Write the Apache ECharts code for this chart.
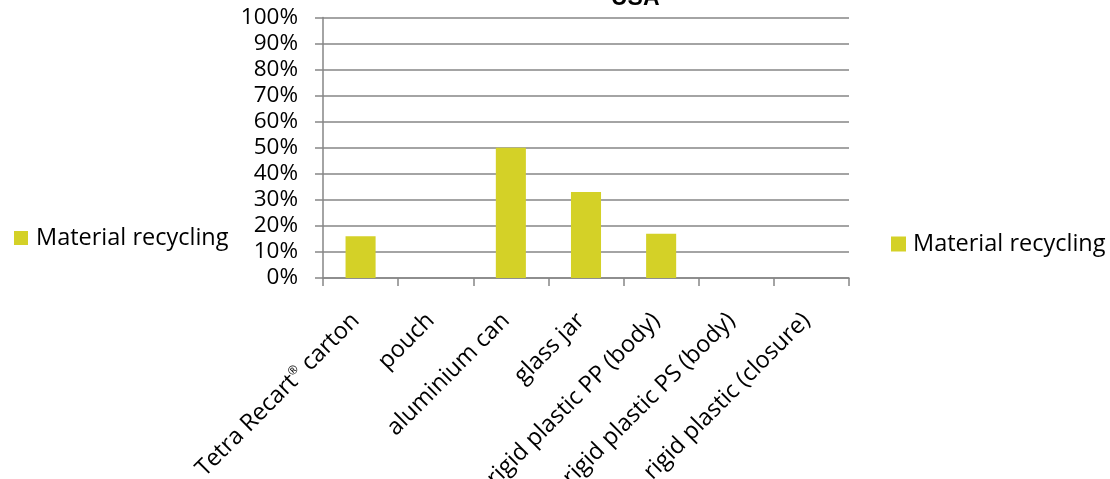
<!DOCTYPE html>
<html>
<head>
<meta charset="utf-8">
<script src="https://cdn.jsdelivr.net/npm/echarts@6/dist/echarts.min.js"></script>
<style>
html,body{margin:0;padding:0;background:#fff;}
#chart{width:1110px;height:479px;}
</style>
</head>
<body>
<div id="chart"></div>
<script>
const title = 'USA';
const seriesName = 'Material recycling';
const categories = ['Tetra Recart® carton', 'pouch', 'aluminium can', 'glass jar', 'rigid plastic PP (body)', 'rigid plastic PS (body)', 'rigid plastic (closure)'];
const values = [16, 0, 50, 33, 17, 0, 0];
const yTicks = { min: 0, max: 100, interval: 10 };

const FONT = 'Open Sans';
const chart = echarts.init(document.getElementById('chart'), null, { renderer: 'canvas' });
chart.setOption({
  animation: false,
  backgroundColor: '#fff',
  graphic: [{
    type: 'text', left: 611, top: -13,
    style: { text: title, font: 'bold 23px "Liberation Sans"', fill: '#000' }
  }],
  legend: [
    { left: 14, top: 226, padding: 0, icon: 'rect', itemWidth: 14, itemHeight: 14, data: [seriesName],
      textStyle: { fontFamily: FONT, fontSize: 23.5, color: '#000', padding: [0, 0, 0, 3] } },
    { left: 891, top: 232, padding: 0, icon: 'rect', itemWidth: 15, itemHeight: 15, data: [seriesName],
      textStyle: { fontFamily: FONT, fontSize: 23.5, color: '#000', padding: [0, 0, 0, 2] } }
  ],
  grid: { left: 323, right: 261, top: 17.4, bottom: 201, containLabel: false, outerBoundsMode: 'none' },
  xAxis: {
    type: 'category', data: categories,
    axisLine: { lineStyle: { color: '#868686', width: 1.5 } },
    axisTick: { show: true, length: 8, lineStyle: { color: '#868686', width: 1.5 }, alignWithLabel: false },
    axisLabel: {
      rotate: 45, margin: 34, interval: 0, color: '#000', fontFamily: FONT, fontSize: 23.5,
      padding: [0, 7, 0, 0],
      formatter: function (v) { return v.replace('®', '{sup|®}'); },
      rich: { sup: { fontSize: 12, fontFamily: FONT, verticalAlign: 'top', color: '#000' } }
    }
  },
  yAxis: {
    type: 'value', min: yTicks.min, max: yTicks.max, interval: yTicks.interval,
    axisLine: { show: true, lineStyle: { color: '#868686', width: 1.5 } },
    axisTick: { show: true, length: 8, lineStyle: { color: '#868686', width: 1.5 } },
    splitLine: { lineStyle: { color: '#868686', width: 1.5 } },
    axisLabel: { formatter: '{value}%', margin: 25, color: '#000', fontFamily: FONT, fontSize: 22.5 }
  },
  series: [{
    name: seriesName, type: 'bar', data: values, barWidth: '40%',
    itemStyle: { color: '#d4d127' }
  }]
});
</script>
</body>
</html>
